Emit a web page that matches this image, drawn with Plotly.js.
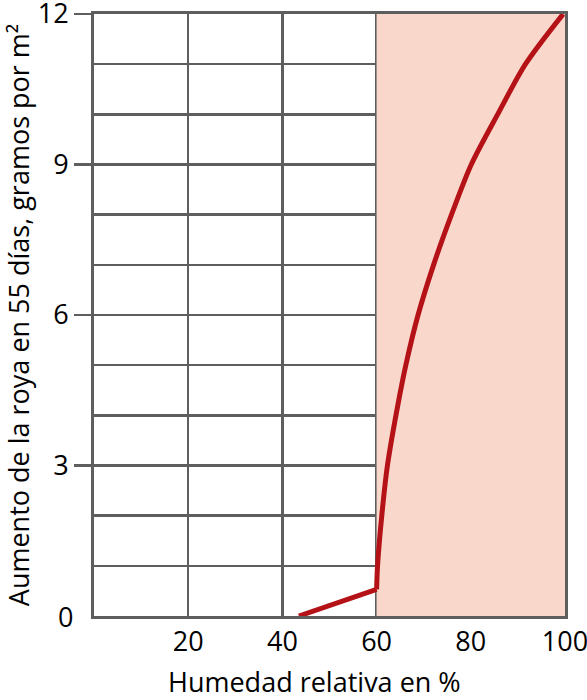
<!DOCTYPE html>
<html>
<head>
<meta charset="utf-8">
<script src="https://cdn.plot.ly/plotly-3.0.1.min.js"></script>
<style>html,body{margin:0;padding:0;background:#fff;} #chart{width:587px;height:700px;}</style>
</head>
<body>
<div id="chart"></div>
<script>
// Data
const segmentHumidity = [43.5, 60];
const segmentRust = [0, 0.53];
const curveHumidity = [60, 60.2, 61.1, 62.3, 64.7, 66.2, 68.8, 72.1, 75.9, 80.1, 85.7, 91.6, 99.6];
const curveRust = [0.53, 1, 2, 3, 4.3, 5, 6, 7, 8, 9, 10, 11, 12];
const shadedRange = [60, 100];
const xTickVals = [20, 40, 60, 80, 100];
const xTickText = ['20', '40', '60', '80', '100'];
const yTickVals = [3, 6, 9, 12];
const yTickText = ['3', '6', '9', '12'];
const yZeroLabel = '0';
const xTitle = 'Humedad relativa en %';
const yTitle = 'Aumento de la roya en 55 días, gramos por m²';

const gridColor = '#5e5e5e';
const red = '#b51218';
const font = 'Open Sans, Noto Sans, sans-serif';

const traces = [
  {x: segmentHumidity, y: segmentRust, type: 'scatter', mode: 'lines',
   line: {color: red, width: 5}, hoverinfo: 'none'},
  {x: curveHumidity, y: curveRust, type: 'scatter', mode: 'lines',
   line: {color: red, width: 5, shape: 'spline', smoothing: 0.8}, hoverinfo: 'none'}
];

const layout = {
  width: 587, height: 700,
  margin: {l: 94, r: 22, t: 14, b: 84},
  paper_bgcolor: '#ffffff', plot_bgcolor: '#ffffff',
  showlegend: false,
  font: {family: font, color: '#000'},
  xaxis: {
    range: [0, 100], tickvals: xTickVals, ticktext: xTickText,
    showgrid: true, gridcolor: gridColor, gridwidth: 2.5,
    showline: true, linecolor: gridColor, linewidth: 3, mirror: true,
    ticks: '', tickfont: {size: 27, family: font, color: '#000'},
    zeroline: false, fixedrange: true, ticklabeloverflow: 'allow'
  },
  yaxis: {
    range: [0, 12.0001], tickvals: yTickVals, ticktext: yTickText,
    showgrid: true, gridcolor: gridColor, gridwidth: 2.5,
    minor: {dtick: 1, showgrid: true, gridcolor: gridColor, gridwidth: 2.5, ticks: ''},
    showline: true, linecolor: gridColor, linewidth: 3, mirror: true,
    ticks: 'outside', ticklen: 17, tickwidth: 2.5, tickcolor: gridColor,
    tickfont: {size: 27, family: font, color: '#000'},
    zeroline: false, fixedrange: true, ticklabeloverflow: 'allow',
    title: {text: yTitle, font: {size: 27, family: font, color: '#000'}, standoff: 4}
  },
  annotations: [
    {text: yZeroLabel, xref: 'paper', yref: 'y', x: 0, y: 0, xanchor: 'right', yanchor: 'middle',
     xshift: -19, showarrow: false, font: {size: 27, family: font, color: '#000'}},
    {text: xTitle, xref: 'paper', yref: 'paper', x: 0.469, y: -0.108, xanchor: 'center', yanchor: 'middle',
     showarrow: false, font: {size: 27, family: font, color: '#000'}}
  ],
  shapes: [{
    type: 'rect', xref: 'x', yref: 'y',
    x0: shadedRange[0], x1: shadedRange[1], y0: 0, y1: 12,
    fillcolor: '#f9d8cb', line: {width: 0}, layer: 'between'
  }]
};

Plotly.newPlot('chart', traces, layout, {displayModeBar: false, staticPlot: true});
</script>
</body>
</html>
